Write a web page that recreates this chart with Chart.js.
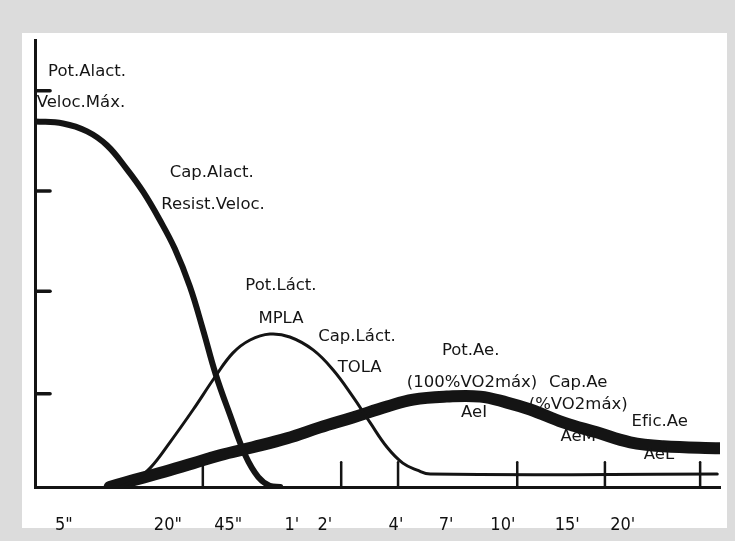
<!DOCTYPE html>
<html lang="es">
<head>
<meta charset="UTF-8">
<title>Capacidades energéticas</title>
<script src="https://cdn.jsdelivr.net/npm/chart.js"></script>
<style>
  body {
    margin: 0;
    background-color: #dcdcdc;
    width: 735px;
    height: 541px;
    overflow: hidden;
  }
  .panel {
    position: absolute;
    left: 22px;
    top: 33px;
    width: 705px;
    height: 495px;
    background-color: #fff;
  }
  .wrap {
    position: absolute;
    left: 0;
    top: 0;
    width: 735px;
    height: 541px;
  }
</style>
</head>
<body>
<div class="panel"></div>
<div class="wrap"><canvas id="chart" width="735" height="541"></canvas></div>

<script>
// eje x: posición relativa 0-100 (duración), eje y: intensidad 0-4.5
const xLabelPos = [4.2, 19.4, 28.2, 37.5, 42.3, 52.7, 60.0, 68.3, 77.7, 85.8];
const xLabels = ['5"', '20"', '45"', "1'", "2'", "4'", "7'", "10'", "15'", "20'"];

const xTickMarks = [24.5, 44.7, 53.0, 70.4, 83.2, 97.1];
const yTickMarks = [0.94, 1.97, 2.98, 3.99];

// sistema alactico
const alactX = [0, 4.1, 7.6, 10.5, 13.4, 15.8, 18.2, 20.4, 22.6, 24.5, 26.4, 28.5, 30.7, 32.6, 34.3, 35.8];
const alactY = [3.68, 3.66, 3.58, 3.44, 3.20, 2.97, 2.69, 2.40, 2.02, 1.59, 1.13, 0.72, 0.32, 0.10, 0.01, 0];

// sistema lactico
const lactX = [12.4, 14.6, 16.8, 19.7, 23.1, 26.3, 28.9, 31.4, 34.3, 37.2, 40.6, 43.5, 46.4, 48.9, 51.4, 53.7, 55.8, 57.7, 99.6];
const lactY = [0, 0.07, 0.19, 0.45, 0.78, 1.11, 1.35, 1.48, 1.54, 1.51, 1.38, 1.18, 0.91, 0.65, 0.40, 0.24, 0.17, 0.13, 0.13];

// sistema aerobico
const aeX = [10.9, 13.9, 18.2, 23.1, 27.0, 31.8, 36.8, 41.6, 46.4, 51.4, 55.2, 60.1, 65.0, 68.9, 72.3, 77.1, 82.0, 86.9, 91.7, 100];
const aeY = [0, 0.06, 0.14, 0.24, 0.32, 0.40, 0.49, 0.60, 0.70, 0.81, 0.88, 0.91, 0.91, 0.85, 0.78, 0.65, 0.55, 0.45, 0.41, 0.39];

// textos sobre la gráfica
const noteText = ['Pot.Alact.', 'Veloc.Máx.', 'Cap.Alact.', 'Resist.Veloc.', 'Pot.Láct.', 'MPLA',
  'Cap.Láct.', 'TOLA', 'Pot.Ae.', '(100%VO2máx)', 'Cap.Ae', '(%VO2máx)', 'AeI', 'Efic.Ae', 'AeM', 'AeL'];
const noteX = [7.6, 6.7, 25.8, 26.0, 35.9, 35.9, 47.0, 47.4, 63.6, 63.8, 79.3, 79.3, 64.1, 91.2, 79.3, 91.1];
const noteY = [4.18, 3.87, 3.16, 2.84, 2.03, 1.69, 1.51, 1.20, 1.37, 1.05, 1.05, 0.83, 0.75, 0.66, 0.51, 0.33];

const ink = '#141414';
const zip = (xs, ys) => xs.map((x, i) => ({x: x, y: ys[i]}));

const datasets = [
  { data: zip(alactX, alactY), borderColor: ink, borderWidth: 6 },
  { data: zip(lactX, lactY), borderColor: ink, borderWidth: 3 },
  { data: zip(aeX, aeY), borderColor: ink, borderWidth: 12 }
];

// marcas del eje x y del eje y
xTickMarks.forEach(v => {
  datasets.push({ data: [{x: v, y: 0}, {x: v, y: 0.25}], borderColor: ink, borderWidth: 2.5, tension: 0 });
});
yTickMarks.forEach(v => {
  datasets.push({ data: [{x: 0, y: v}, {x: 2.2, y: v}], borderColor: ink, borderWidth: 3.5, tension: 0 });
});

datasets.forEach(d => {
  d.pointRadius = 0;
  d.fill = false;
  if (d.tension === undefined) d.tension = 0.4;
  d.borderCapStyle = 'round';
  d.borderJoinStyle = 'round';
});

const notesPlugin = {
  id: 'notes',
  afterDatasetsDraw(chart) {
    const {ctx, scales} = chart;
    ctx.save();
    ctx.fillStyle = '#151515';
    ctx.font = '16.5px "DejaVu Sans", sans-serif';
    ctx.textAlign = 'center';
    ctx.textBaseline = 'middle';
    noteText.forEach((t, i) => {
      ctx.fillText(t, scales.x.getPixelForValue(noteX[i]), scales.y.getPixelForValue(noteY[i]));
    });
    ctx.restore();
  }
};

new Chart(document.getElementById('chart'), {
  type: 'line',
  data: { datasets: datasets },
  options: {
    responsive: false,
    animation: false,
    layout: { padding: { left: 35, right: 15, top: 40, bottom: 0 } },
    plugins: { legend: { display: false }, tooltip: { enabled: false } },
    scales: {
      x: {
        type: 'linear',
        min: 0,
        max: 100,
        grid: { display: false },
        border: { color: ink, width: 3 },
        afterFit(scale) { scale.height = 54; },
        afterBuildTicks(scale) { scale.ticks = xLabelPos.map(v => ({value: v})); },
        ticks: {
          padding: 20,
          autoSkip: false,
          maxRotation: 0,
          color: '#111',
          font: { family: '"DejaVu Sans Condensed", "DejaVu Sans", sans-serif', size: 18 },
          callback: (v, i) => xLabels[i]
        }
      },
      y: {
        min: 0,
        max: 4.5,
        grid: { display: false },
        border: { color: ink, width: 3 },
        ticks: { display: false },
        afterFit(scale) { scale.width = 0; }
      }
    }
  },
  plugins: [notesPlugin]
});
</script>
</body>
</html>
